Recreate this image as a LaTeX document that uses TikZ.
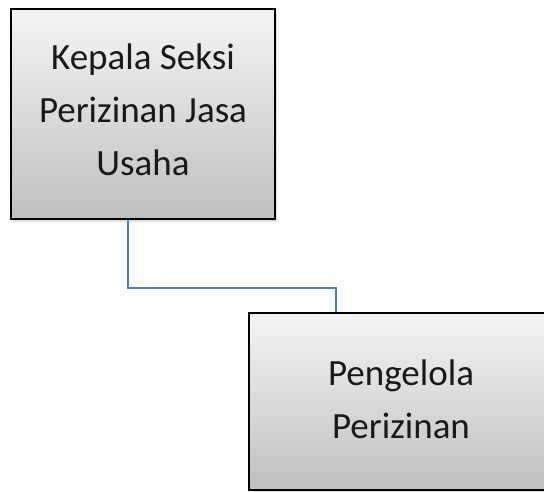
\documentclass[tikz,border=0pt]{standalone}
\usepackage{fontspec}
\setmainfont{Carlito}
\usepackage{tikz}
\usetikzlibrary{shadows,calc}

\begin{document}
\begin{tikzpicture}[
    x=1pt, y=-1pt,
    box/.style={rectangle, draw=black, line width=2pt, shading=axis, top color=gray!8, bottom color=gray!50,
        drop shadow={shadow xshift=2pt, shadow yshift=-3pt, opacity=0.25}},
    txt/.style={align=center, font=\fontsize{37}{53}\selectfont, text=black!90},
    link/.style={draw={rgb,255:red,74;green,126;blue,187}, line width=1.6pt}
]
\useasboundingbox (0,0) rectangle (544,491);
\clip (0,0) rectangle (544,491);

\node[box, minimum width=264pt, minimum height=210pt] (kasi) at (143,114) {};
\node[box, minimum width=304pt, minimum height=177pt] (peng) at (401,401.5) {};

\node[txt] (kasitxt) at ([yshift=4pt]kasi.center) {Kepala Seksi\\Perizinan Jasa\\Usaha};
\node[txt] (pengtxt) at ([yshift=2pt]peng.center) {Pengelola\\Perizinan};

\draw[link] ([xshift=-15pt]kasi.south) -- ++(0,68) -| ([xshift=-65pt]peng.north);

\end{tikzpicture}
\end{document}
